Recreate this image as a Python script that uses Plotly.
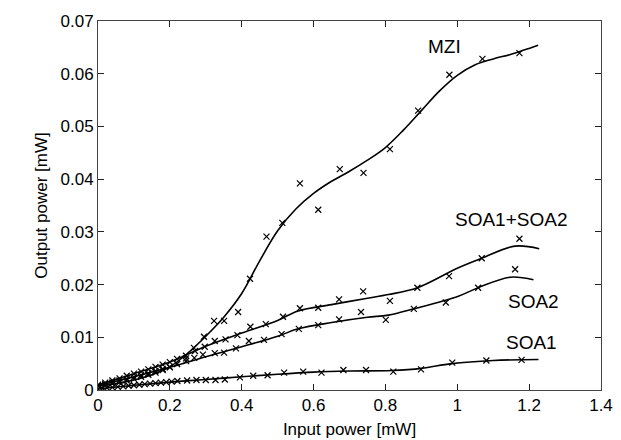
import plotly.graph_objects as go

# ---- measured markers ----
mzi_x = [0.0, 0.02, 0.04, 0.06, 0.08, 0.10, 0.12, 0.14, 0.16, 0.18, 0.20, 0.22, 0.245, 0.267, 0.295,
         0.323, 0.351, 0.390, 0.423, 0.469, 0.513, 0.562, 0.613, 0.673, 0.739, 0.8125, 0.891, 0.978, 1.070, 1.173]
mzi_y = [0.0008, 0.0010, 0.0012, 0.0015, 0.0018, 0.0021, 0.0025, 0.0029, 0.0033, 0.0038, 0.0043, 0.0050, 0.0060, 0.0080, 0.0101,
         0.0131, 0.0131, 0.0148, 0.0211, 0.0291, 0.0317, 0.0392, 0.0342, 0.0419, 0.0412, 0.0457, 0.0530, 0.0598, 0.0628, 0.0639]

s12_x = [0.0, 0.02, 0.04, 0.06, 0.08, 0.10, 0.12, 0.14, 0.16, 0.18, 0.20, 0.22, 0.245, 0.27, 0.297,
         0.325, 0.355, 0.388, 0.424, 0.467, 0.515, 0.562, 0.613, 0.671, 0.738, 0.8125, 0.889, 0.977, 1.068, 1.173]
s12_y = [0.0010, 0.0014, 0.0018, 0.0022, 0.0027, 0.0031, 0.0035, 0.0039, 0.0044, 0.0048, 0.0053, 0.0059, 0.0065, 0.0074, 0.0082,
         0.0093, 0.0096, 0.0104, 0.0120, 0.0125, 0.0139, 0.0155, 0.0156, 0.0172, 0.0187, 0.0169, 0.0194, 0.0216, 0.0250, 0.0287]

s2_x = [0.0, 0.02, 0.04, 0.06, 0.08, 0.10, 0.12, 0.14, 0.16, 0.18, 0.20, 0.22, 0.245, 0.268, 0.292,
        0.325, 0.351, 0.384, 0.420, 0.462, 0.511, 0.559, 0.613, 0.671, 0.732, 0.801, 0.879, 0.968, 1.058, 1.161]
s2_y = [0.0008, 0.0011, 0.0014, 0.0018, 0.0021, 0.0025, 0.0028, 0.0032, 0.0036, 0.0040, 0.0044, 0.0049, 0.0055, 0.0061, 0.0067,
        0.0070, 0.0071, 0.0079, 0.0093, 0.0095, 0.0106, 0.0116, 0.0123, 0.0134, 0.0148, 0.0133, 0.0154, 0.0166, 0.0194, 0.0229]

s1_x = [0.0, 0.0125, 0.025, 0.04, 0.055, 0.07, 0.085, 0.10, 0.115, 0.13, 0.145, 0.16, 0.175, 0.19, 0.205,
        0.221, 0.248, 0.274, 0.300, 0.327, 0.353, 0.395, 0.432, 0.472, 0.518, 0.571, 0.622, 0.683, 0.746, 0.822,
        0.899, 0.986, 1.081, 1.179]
s1_y = [0.0002, 0.0003, 0.0004, 0.0005, 0.0006, 0.0007, 0.0008, 0.0009, 0.0010, 0.0011, 0.0012, 0.0013, 0.0014, 0.0015, 0.0016,
        0.0017, 0.0018, 0.0019, 0.0019, 0.0019, 0.0020, 0.0024, 0.0027, 0.0028, 0.0033, 0.0035, 0.0033, 0.0038, 0.0038, 0.0035,
        0.0039, 0.0052, 0.0056, 0.0057]

# ---- fitted curves ----
mzi_fx = [0.0, 0.05, 0.10, 0.15, 0.20, 0.25, 0.30, 0.35, 0.40, 0.45, 0.50, 0.55, 0.60, 0.65, 0.70, 0.75,
          0.80, 0.85, 0.90, 0.95, 1.00, 1.05, 1.10, 1.15, 1.20, 1.225]
mzi_fy = [0.0008, 0.0012, 0.0019, 0.0029, 0.0044, 0.0070, 0.0102, 0.0138, 0.0183, 0.0245, 0.0302, 0.0343, 0.0373, 0.0396, 0.0415, 0.0436,
          0.0460, 0.0493, 0.0530, 0.0567, 0.0597, 0.0617, 0.0628, 0.0637, 0.0648, 0.0654]

s12_fx = [0.0, 0.10, 0.20, 0.30, 0.40, 0.50, 0.557, 0.65, 0.75, 0.808, 0.889, 1.003, 1.068, 1.161, 1.228]
s12_fy = [0.0010, 0.0031, 0.0053, 0.0083, 0.0108, 0.0132, 0.0150, 0.0162, 0.0174, 0.0181, 0.0194, 0.0232, 0.0250, 0.0273, 0.0268]

s2_fx = [0.0, 0.10, 0.20, 0.30, 0.40, 0.50, 0.557, 0.65, 0.75, 0.808, 0.879, 1.003, 1.058, 1.147, 1.212]
s2_fy = [0.0008, 0.0025, 0.0043, 0.0063, 0.0082, 0.0102, 0.0116, 0.0128, 0.0138, 0.0142, 0.0154, 0.0178, 0.0194, 0.0214, 0.0209]

s1_fx = [0.0, 0.10, 0.20, 0.30, 0.40, 0.50, 0.60, 0.70, 0.817, 0.90, 0.984, 1.10, 1.226]
s1_fy = [0.0002, 0.0009, 0.0015, 0.0020, 0.0025, 0.0030, 0.0034, 0.0036, 0.0037, 0.0041, 0.0050, 0.0056, 0.0058]

labels = ["MZI", "SOA1+SOA2", "SOA2", "SOA1"]
label_x = [0.965, 1.150, 1.212, 1.207]
label_y = [0.0652, 0.0323, 0.0168, 0.0090]

fig = go.Figure()
for fx, fy in [(mzi_fx, mzi_fy), (s12_fx, s12_fy), (s2_fx, s2_fy), (s1_fx, s1_fy)]:
    fig.add_trace(go.Scatter(x=fx, y=fy, mode="lines", line=dict(color="black", width=1.6, shape="spline", smoothing=1.0),
                             showlegend=False, hoverinfo="skip"))
for mx, my in [(mzi_x, mzi_y), (s12_x, s12_y), (s2_x, s2_y), (s1_x, s1_y)]:
    fig.add_trace(go.Scatter(x=mx, y=my, mode="markers",
                             marker=dict(symbol="x-thin", size=6, line=dict(color="black", width=1.2)),
                             showlegend=False))

for t, ax, ay in zip(labels, label_x, label_y):
    fig.add_annotation(x=ax, y=ay, text=t, showarrow=False, font=dict(size=19, color="black"))

font = "Liberation Sans, Arial, sans-serif"
fig.update_layout(
    width=621, height=440,
    margin=dict(l=90, r=28, t=13, b=58, autoexpand=False),
    plot_bgcolor="white", paper_bgcolor="white",
    font=dict(family=font, size=17, color="black"),
)
axis_common = dict(showgrid=False, zeroline=False, showline=True, linecolor="#444", linewidth=1,
                   mirror="ticks", ticks="inside", ticklen=6, tickcolor="#222", tickwidth=1,
                   automargin=False, tickfont=dict(size=17, color="black"))
fig.update_xaxes(range=[0, 1.4], tickvals=[0, 0.2, 0.4, 0.6, 0.8, 1, 1.2, 1.4],
                 ticktext=["0", "0.2", "0.4", "0.6", "0.8", "1", "1.2", "1.4"],
                 title=dict(text="Input power [mW]", font=dict(size=17), standoff=8), **axis_common)
fig.update_yaxes(range=[0, 0.07], tickvals=[0, 0.01, 0.02, 0.03, 0.04, 0.05, 0.06, 0.07],
                 ticktext=["0", "0.01", "0.02", "0.03", "0.04", "0.05", "0.06", "0.07"],
                 title=dict(text="Output power [mW]", font=dict(size=17), standoff=8), **axis_common)

fig.write_html("out.html")
